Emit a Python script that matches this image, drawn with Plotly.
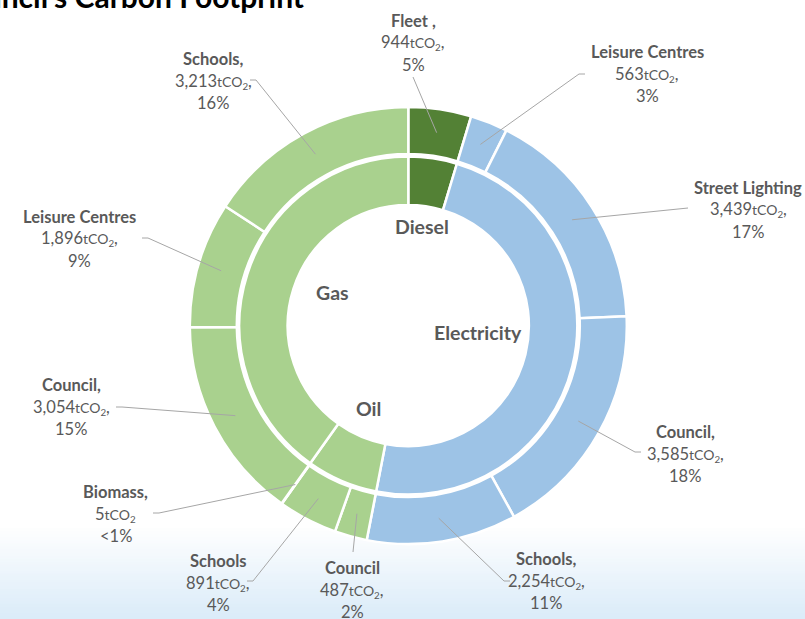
import numpy as np
import plotly.graph_objects as go

## DATA
# outer ring, clockwise from 12 o'clock
site_names = ["Fleet ,", "Leisure Centres", "Street Lighting", "Council,", "Schools,",
              "Council", "Schools", "Biomass,", "Council,", "Leisure Centres", "Schools,"]
site_values = [944, 563, 3439, 3585, 2254, 487, 891, 5, 3054, 1896, 3213]
site_fuel = ["Diesel", "Electricity", "Electricity", "Electricity", "Electricity",
             "Oil", "Oil", "Oil", "Gas", "Gas", "Gas"]
value_sep = [",", ",", ",", ",", ",", ",", ",", "", ",", ",", ","]

# inner ring
fuel_names = ["Diesel", "Electricity", "Oil", "Gas"]
fuel_values = [944, 9841, 1383, 8163]

fuel_colors = {"Diesel": "#538135", "Electricity": "#9dc3e6", "Oil": "#a9d18e", "Gas": "#a9d18e"}

## LAYOUT CONSTANTS (window pixels)
W, H = 805, 619
CX, CY = 408.3, 325.6
R_OUT, R_OUT_HOLE = 218.5, 171.5
R_IN, R_IN_HOLE = 169, 120.6
GREY = "#595959"
LINE = "#a6a6a6"
FONT = "Lato"

# label block centre (middle line) and leader elbow for every outer slice
label_pos = [(413, 43), (647, 74), (748, 210), (685, 454), (546, 581),
             (352, 590), (218, 583), (116, 514), (71, 407), (79, 239), (213, 81)]
elbow_pos = [(413, 77), (585, 74), (688, 208), (641, 452), (510, 581),
             (353, 552), (247, 581), (153, 513), (116, 407), (142, 238), (250, 80)]
tick_dir = [0, -1, 0, -1, -1, 0, 1, 1, 1, 1, 1]

fuel_label_pos = [(422, 226), (478, 333), (368, 422), (332, 292)]


def px(x):
    return x / W


def py(y):
    return 1 - y / H


def dom(r):
    return dict(x=[px(CX - r), px(CX + r)], y=[py(CY + r), py(CY - r)])


fig = go.Figure()

fig.add_trace(go.Pie(
    labels=[f"{n} ({i})" for i, n in enumerate(site_names)],
    values=site_values, sort=False, direction="clockwise", rotation=0,
    hole=R_OUT_HOLE / R_OUT, domain=dom(R_OUT), textinfo="none",
    marker=dict(colors=[fuel_colors[f] for f in site_fuel],
                line=dict(color="white", width=2.5)),
    showlegend=False))

fig.add_trace(go.Pie(
    labels=fuel_names, values=fuel_values, sort=False, direction="clockwise", rotation=0,
    hole=R_IN_HOLE / R_IN, domain=dom(R_IN), textinfo="none",
    marker=dict(colors=[fuel_colors[f] for f in fuel_names], line=dict(color="white", width=2.5)),
    showlegend=False))

# bottom gradient of the slide
shapes = []
n_band = 30
g_top, g_bot = 528, H
for i in range(n_band):
    t = (i + 1) / n_band
    y0 = g_top + (g_bot - g_top) * i / n_band
    y1 = g_top + (g_bot - g_top) * (i + 1) / n_band + 0.5
    r = int(255 - (255 - 219) * t)
    g = int(255 - (255 - 236) * t)
    b = int(255 - (255 - 249) * t)
    shapes.append(dict(type="rect", xref="paper", yref="paper", x0=0, x1=1,
                       y0=py(y1), y1=py(y0), fillcolor=f"rgb({r},{g},{b})",
                       line=dict(width=0), layer="below"))

total = sum(site_values)
cum = np.cumsum([0] + site_values)
r_mid = (R_OUT + R_OUT_HOLE) / 2
annotations = []
for i, name in enumerate(site_names):
    mid = (cum[i] + cum[i + 1]) / 2 / total * 2 * np.pi
    sx = CX + r_mid * np.sin(mid)
    sy = CY - r_mid * np.cos(mid)
    ex, ey = elbow_pos[i]
    if tick_dir[i] != 0:
        path = f"M {px(ex)},{py(ey)} L {px(ex + 6 * tick_dir[i])},{py(ey)} L {px(sx)},{py(sy)}"
    else:
        path = f"M {px(ex)},{py(ey)} L {px(sx)},{py(sy)}"
    shapes.append(dict(type="path", xref="paper", yref="paper", path=path,
                       line=dict(color=LINE, width=1)))

    pct = site_values[i] / total * 100
    pct_txt = "<1%" if pct < 1 else f"{pct:.0f}%"
    lx, ly = label_pos[i]
    lines = [f"<b>{name}</b>",
             f"{site_values[i]:,}<span style='font-size:14px'>tCO<sub>2</sub></span>{value_sep[i]}",
             pct_txt]
    for k, txt in enumerate(lines):
        annotations.append(dict(x=px(lx), y=py(ly + (k - 1) * 22), xref="paper", yref="paper",
                                text=txt, showarrow=False, xanchor="center", yanchor="middle",
                                font=dict(family=FONT, size=16.5, color=GREY)))

for name, (lx, ly) in zip(fuel_names, fuel_label_pos):
    annotations.append(dict(x=px(lx), y=py(ly), xref="paper", yref="paper",
                            text=f"<b>{name}</b>", showarrow=False,
                            font=dict(family=FONT, size=19.5, color=GREY)))

# slide title, cut off by the window edge
annotations.append(dict(x=px(306), y=py(16), xref="paper", yref="paper",
                        text="<b>Council's Carbon Footprint</b>", showarrow=False,
                        xanchor="right", yanchor="bottom",
                        font=dict(family=FONT, size=30, color="black")))

fig.update_layout(width=W, height=H, margin=dict(l=0, r=0, t=0, b=0),
                  paper_bgcolor="white", plot_bgcolor="white",
                  shapes=shapes, annotations=annotations)

fig.write_html("out.html", config={"displayModeBar": False},
               post_script="document.body.style.margin = '0';")
